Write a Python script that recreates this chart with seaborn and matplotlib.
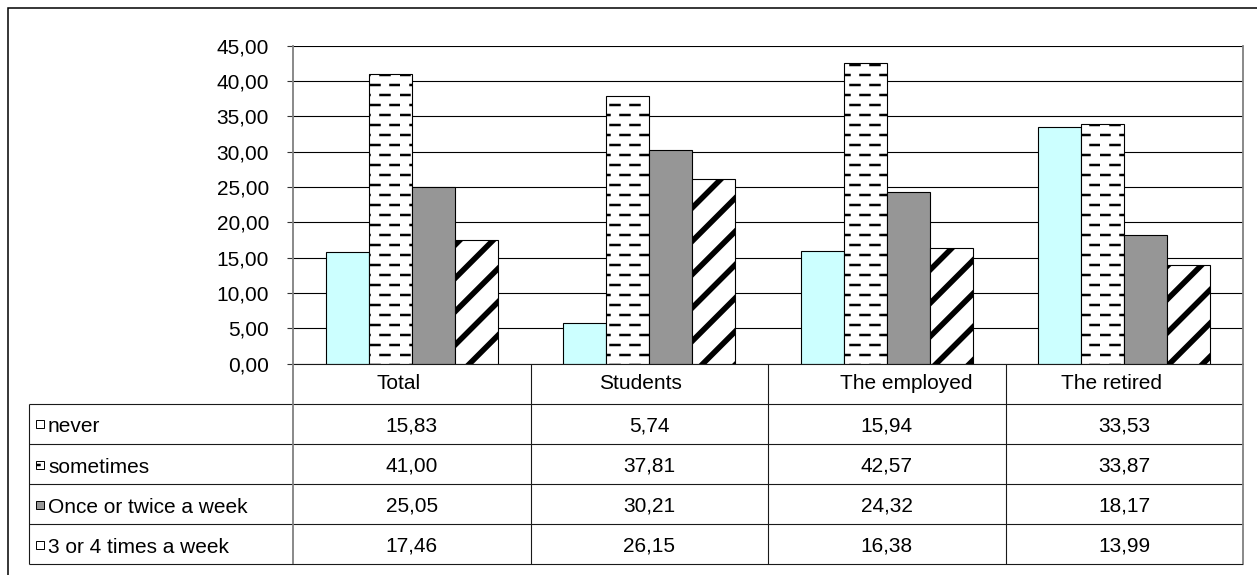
import warnings
import numpy as np
import pandas as pd
import matplotlib
matplotlib.use("Agg")
import matplotlib.pyplot as plt
from matplotlib import hatch as mhatch
from matplotlib.patches import Rectangle
from matplotlib.path import Path
import seaborn as sns

warnings.filterwarnings("ignore", message=".*hatch must consist.*")

# ---- data -------------------------------------------------------------
groups = ["Total", "Students", "The employed", "The retired"]
frequencies = ["never", "sometimes", "Once or twice a week", "3 or 4 times a week"]
never = [15.83, 5.74, 15.94, 33.53]
sometimes = [41.00, 37.81, 42.57, 33.87]
once_twice = [25.05, 30.21, 24.32, 18.17]
three_four = [17.46, 26.15, 16.38, 13.99]
y_ticks = [0, 5, 10, 15, 20, 25, 30, 35, 40, 45]

series = [never, sometimes, once_twice, three_four]
df = pd.DataFrame(
    [(g, f, v) for f, vals in zip(frequencies, series) for g, v in zip(groups, vals)],
    columns=["group", "frequency", "share"],
)


# ---- staggered dash fill used for "sometimes" (hatch letter 'd') -------
class StaggeredDashes(mhatch.HatchPatternBase):
    """Short horizontal dashes; every other row shifted by half a period."""
    rows_per_inch = 10
    dashes_per_row = 5

    def __init__(self, hatch, density):
        n = hatch.count("d") if hatch else 0
        self.rows = self.rows_per_inch * n
        self.num_vertices = 2 * self.rows * self.dashes_per_row

    def set_vertices_and_codes(self, vertices, codes):
        period = 1.0 / self.dashes_per_row
        length = 0.45 * period
        r, c = np.meshgrid(np.arange(self.rows), np.arange(self.dashes_per_row),
                           indexing="ij")
        x0 = (c * period + (r % 2) * period / 2 + 0.005).ravel()
        y = ((r + 0.5) / self.rows).ravel()
        vertices[0::2, 0] = x0
        vertices[0::2, 1] = y
        vertices[1::2, 0] = x0 + length
        vertices[1::2, 1] = y
        codes[0::2] = Path.MOVETO
        codes[1::2] = Path.LINETO


mhatch._hatch_types.append(StaggeredDashes)

# ---- styles -----------------------------------------------------------
styles = {
    "never": dict(face="#CCFFFF", key="white", hatch=None, hlw=1.0),
    "sometimes": dict(face="white", key="white", hatch="d", hlw=1.8),
    "Once or twice a week": dict(face="#969696", key="#969696", hatch=None, hlw=1.0),
    "3 or 4 times a week": dict(face="white", key="white", hatch="/", hlw=4.0),
}

sns.set_theme(style="white")
plt.rcParams["font.family"] = ["Liberation Sans", "DejaVu Sans"]
plt.rcParams["hatch.linewidth"] = 1.8

W, H = 1257, 575
fig = plt.figure(figsize=(W / 100, H / 100), dpi=100)
fig.patch.set_facecolor("white")

# plot area and table area, in pixels
px_left, px_right, px_top, px_bottom = 293, 1243, 45.7, 363.5
tbl_left, tbl_bottom = 29, 564

ax = fig.add_axes([px_left / W, 1 - px_bottom / H,
                   (px_right - px_left) / W, (px_bottom - px_top) / H])

sns.barplot(data=df, x="group", y="share", hue="frequency",
            order=groups, hue_order=frequencies,
            palette={f: styles[f]["face"] for f in frequencies},
            saturation=1, width=0.724, gap=0, errorbar=None, legend=False,
            edgecolor="black", linewidth=0.8, ax=ax, zorder=3)

for freq, container in zip(frequencies, ax.containers):
    st = styles[freq]
    for bar in container:
        bar.set_facecolor(st["face"])
        bar.set_edgecolor("black")
        bar.set_zorder(3)
        if st["hatch"]:
            bar.set_hatch(st["hatch"])
            if hasattr(bar, "set_hatch_linewidth"):
                bar.set_hatch_linewidth(st["hlw"])

ax.set_xlim(-0.5, len(groups) - 0.5)
ax.set_ylim(0, 45)
ax.set_xticks([])
ax.set_xlabel("")
ax.set_ylabel("")
ax.set_yticks(y_ticks)
ax.set_yticklabels([f"{v:.2f}".replace(".", ",") for v in y_ticks])
ax.tick_params(axis="y", which="major", direction="out", length=4.3, width=0.8,
               color="#333333", pad=13, labelsize=15, labelcolor="black", left=True)
ax.grid(axis="y", color="black", linewidth=0.8, zorder=0)
ax.set_axisbelow(True)
for side in ["top", "bottom"]:
    ax.spines[side].set_visible(False)
for side in ["left", "right"]:
    ax.spines[side].set_color("#808080")
    ax.spines[side].set_linewidth(1.3)
ax.set_facecolor("white")

# ---- data table under the plot ---------------------------------------
col_px = (px_right - px_left) / len(groups)
x_tbl_left = -0.5 - (px_left - tbl_left) / col_px
n_rows = 1 + len(frequencies)

tax = fig.add_axes([tbl_left / W, 1 - tbl_bottom / H,
                    (px_right - tbl_left) / W, (tbl_bottom - px_bottom) / H])
tax.set_xlim(x_tbl_left, len(groups) - 0.5)
tax.set_ylim(n_rows, 0)
tax.axis("off")

line_kw = dict(color="#1a1a1a", linewidth=0.8, clip_on=False)
tax.hlines(0, -0.5, len(groups) - 0.5, **line_kw)
tax.hlines(np.arange(1, n_rows + 1), x_tbl_left, len(groups) - 0.5, **line_kw)
tax.vlines(np.arange(0.5, len(groups) - 1), 0, n_rows, **line_kw)
tax.vlines(x_tbl_left, 1, n_rows, **line_kw)
tax.vlines([-0.5, len(groups) - 0.5], 0, n_rows, color="#808080",
           linewidth=1.3, clip_on=False)

# category captions sit a little off the column centres
header_shift_px = [-13, -9, 20, -13]
for i, (g, dx) in enumerate(zip(groups, header_shift_px)):
    tax.text(i + dx / col_px, 0.63, g, ha="center", va="baseline",
             fontsize=15, color="black")

key_w = 8 / col_px
key_h = 8 / 40
for r, (freq, vals) in enumerate(zip(frequencies, series), start=1):
    st = styles[freq]
    key = Rectangle((x_tbl_left + 7 / col_px, r + 0.62 - key_h), key_w, key_h,
                    facecolor=st["key"], edgecolor="black", linewidth=0.7,
                    hatch=st["hatch"], clip_on=False)
    if st["hatch"] and hasattr(key, "set_hatch_linewidth"):
        key.set_hatch_linewidth(st["hlw"])
    tax.add_patch(key)
    tax.text(x_tbl_left + 19 / col_px, r + 0.72, freq, ha="left", va="baseline",
             fontsize=15, color="black")
    for i, v in enumerate(vals):
        tax.text(i, r + 0.7, f"{v:.2f}".replace(".", ","), ha="center",
                 va="baseline", fontsize=15, color="black")

# ---- outer chart frame -------------------------------------------------
fig.add_artist(Rectangle((8 / W, -0.1), 1.2, 1 - 8 / H + 0.1,
                         transform=fig.transFigure, fill=False,
                         edgecolor="black", linewidth=1.1))

fig.savefig("out.png", dpi=100, facecolor="white")
